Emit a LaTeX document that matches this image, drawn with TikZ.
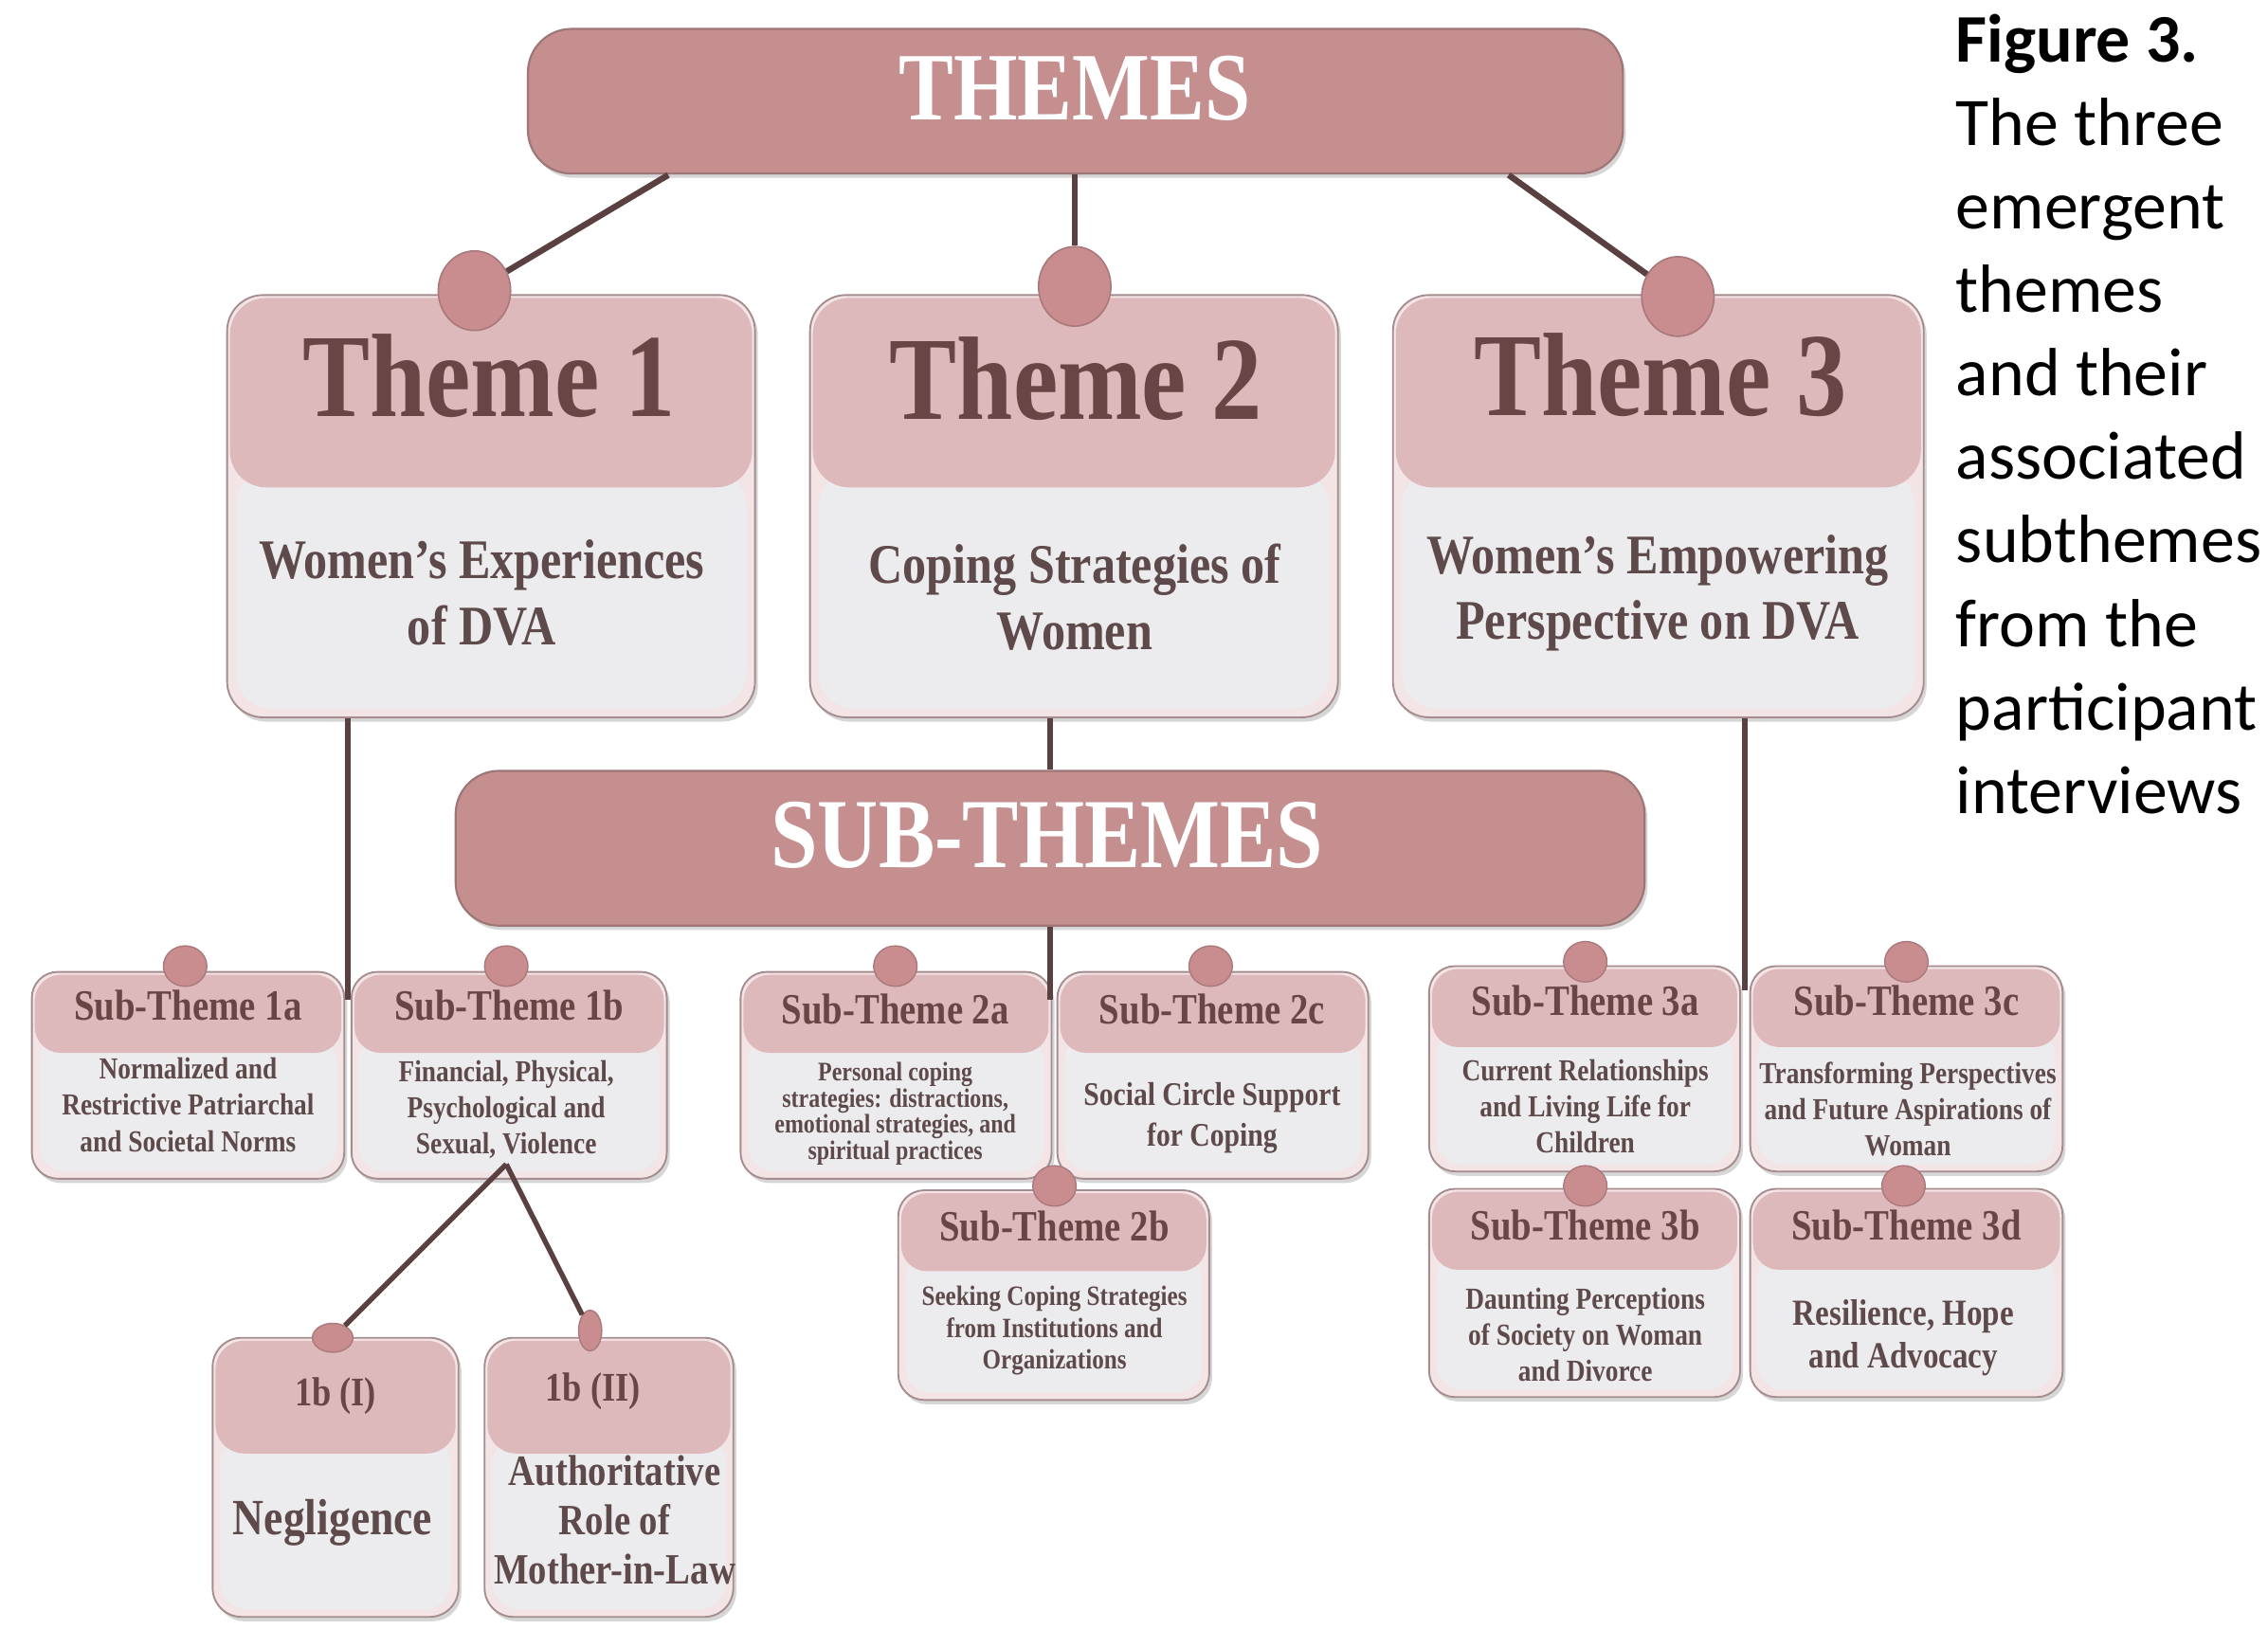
\documentclass[tikz,border=0pt]{standalone}
\usepackage{fontspec}
\setmainfont{Liberation Serif}
\newfontfamily\tf[FakeStretch=0.85]{Liberation Serif}
\newfontfamily\capf{Carlito}
\usetikzlibrary{shapes.geometric}
\definecolor{barfill}{HTML}{C58F90}
\definecolor{barborder}{HTML}{9E7677}
\definecolor{headfill}{HTML}{DEB9BC}
\definecolor{outerfill}{HTML}{F3E4E6}
\definecolor{bodyfill}{HTML}{ECECEE}
\definecolor{boxborder}{HTML}{A58C8E}
\definecolor{dotfill}{HTML}{C98C8F}
\definecolor{dotborder}{HTML}{A8797B}
\definecolor{textc}{HTML}{6A4546}
\definecolor{bodyc}{HTML}{5E4A4B}
\definecolor{linec}{HTML}{5A4040}
\newcommand\fsz[2]{\tf\bfseries\fontsize{#1}{#2}\selectfont}
% #1 name, #2 left, #3 top, #4 right, #5 bottom, #6 header bottom, #7 radius, #8 inset
\newcommand\mkbox[8]{%
  \fill[black, opacity=.16, rounded corners=#7] (#2+2,#3+3) rectangle (#4+2,#5+3);
  \node[draw=boxborder, fill=outerfill, rounded corners=#7, line width=0.7pt, inner sep=0,
        minimum width={(#4-#2)*0.2mm}, minimum height={(#5-#3)*0.2mm}] (#1) at ({(#2+#4)/2},{(#3+#5)/2}) {};
  \fill[bodyfill, rounded corners=#7] (#2+#8,#6-12) rectangle (#4-#8,#5-#8);
  \fill[headfill, rounded corners=#7] (#2+2,#3+2) rectangle (#4-2,#6);
}
\tikzset{
  bar/.style={draw=barborder, fill=barfill, rounded corners=6mm, line width=0.8pt, inner sep=0},
  conn/.style={draw=linec, line width=2.4pt},
  thin conn/.style={draw=linec, line width=2pt},
  bigdot/.style={ellipse, draw=dotborder, fill=dotfill, line width=0.6pt, minimum width=10mm, minimum height=11mm, inner sep=0},
  smalldot/.style={ellipse, draw=dotborder, fill=dotfill, line width=0.5pt, minimum width=6mm, minimum height=5.6mm, inner sep=0},
  ttl/.style={text=white, font=\fsz{38}{40}, inner sep=0},
  hd/.style={text=textc, inner sep=0},
  bd/.style={text=bodyc, align=center, inner sep=0},
  capline/.style={anchor=base west, inner sep=0, text=black, font=\capf\fontsize{26.8}{32}\selectfont},
}
\begin{document}
\begin{tikzpicture}[x=0.2mm, y=-0.2mm]
\clip (0,0) rectangle (1568,1126);
\fill[white] (0,0) rectangle (1568,1126);

% bars
\fill[black, opacity=.16, rounded corners=6mm] (367,23) rectangle (1124,123);
\node[bar, minimum width={757*0.2mm}, minimum height={100*0.2mm}] (themes) at (743.5,70) {};
\node[ttl, anchor=base] (themesT) at (743,83) {THEMES};
\fill[black, opacity=.16, rounded corners=6mm] (317,536) rectangle (1139,643);
\node[bar, minimum width={822*0.2mm}, minimum height={107*0.2mm}] (subs) at (726,586.5) {};
\node[ttl, anchor=base, font=\fsz{39}{41}] (subsT) at (724,600) {SUB-THEMES};

% theme boxes
\mkbox{t1}{157}{204}{522}{496}{337}{5mm}{6}
\mkbox{t2}{560}{204}{925}{496}{337}{5mm}{6}
\mkbox{t3}{963}{204}{1330}{496}{337}{5mm}{6}

% sub-theme boxes
\mkbox{s1a}{22}{672}{238}{815}{728}{3.6mm}{5}
\mkbox{s1b}{243}{672}{461}{815}{728}{3.6mm}{5}
\mkbox{s2a}{512}{672}{727}{815}{728}{3.6mm}{5}
\mkbox{s2c}{731}{672}{946}{815}{728}{3.6mm}{5}
\mkbox{s2b}{621}{823}{836}{968}{879}{3.6mm}{5}
\mkbox{s3a}{988}{668}{1203}{810}{724}{3.6mm}{5}
\mkbox{s3c}{1210}{668}{1426}{810}{724}{3.6mm}{5}
\mkbox{s3b}{988}{822}{1203}{966}{878}{3.6mm}{5}
\mkbox{s3d}{1210}{822}{1426}{966}{878}{3.6mm}{5}
\mkbox{s1bI}{147}{925}{317}{1118}{1005}{4mm}{5}
\mkbox{s1bII}{335}{925}{507}{1118}{1005}{4mm}{5}

% dots
\node[bigdot] (d1) at (328,201) {};
\node[bigdot] (d2) at (743,198) {};
\node[bigdot] (d3) at (1160,205) {};
\node[smalldot] (ds1a) at (128,668) {};
\node[smalldot] (ds1b) at (350,668) {};
\node[smalldot] (ds2a) at (619,668) {};
\node[smalldot] (ds2c) at (837,668) {};
\node[smalldot] (ds2b) at (729,820) {};
\node[smalldot] (ds3a) at (1096,665) {};
\node[smalldot] (ds3c) at (1318,665) {};
\node[smalldot] (ds3b) at (1096,820) {};
\node[smalldot] (ds3d) at (1316,820) {};
\node[smalldot, minimum width=5.6mm, minimum height=4mm] (ds1bI) at (230,925) {};
\node[smalldot, minimum width=3.2mm, minimum height=5.6mm] (ds1bII) at (408,920) {};

% connectors
\coordinate (themesL) at (462,121);
\coordinate (themesR) at (1043,121);
\coordinate (s1bV) at (350,805);
\draw[conn] (themesL) -- (d1);
\draw[conn] (themes.south -| d2) -- (d2);
\draw[conn] (themesR) -- (d3);
\draw[conn] ([xshift=-0.4mm]s1b.north west |- t1.south) -- ([xshift=-0.4mm,yshift=-4mm]s1b.north west);
\draw[conn] (subs.north) -- (subs.north |- t2.south);
\draw[conn] (subs.south) -- ([yshift=-4mm]subs.south |- s2a.north);
\draw[conn] ([xshift=-0.6mm]s3c.north west |- t3.south) -- ([xshift=-0.6mm,yshift=-3.5mm]s3c.north west);
\draw[thin conn] (s1bV) -- (ds1bI);
\draw[thin conn] (s1bV) -- (ds1bII);

% theme texts
\node[hd, font=\fsz{46.7}{50}, anchor=base] (t1h) at (338,288) {Theme 1};
\node[hd, font=\fsz{46.7}{50}, anchor=base] (t2h) at (744,290) {Theme 2};
\node[hd, font=\fsz{46.7}{50}, anchor=base] (t3h) at (1148,287) {Theme 3};
\node[bd, font=\fsz{22}{26}] (t1b) at (333,410) {Women’s Experiences\\of DVA};
\node[bd, font=\fsz{22}{26}] (t2b) at (743,413) {Coping Strategies of\\Women};
\node[bd, font=\fsz{22}{26}] (t3b) at (1146,410) {Women’s Empowering\\Perspective on DVA};

% sub-theme headers
\node[hd, font=\fsz{17}{19}] (s1ah) at (130,695) {Sub-Theme 1a};
\node[hd, font=\fsz{17}{19}] (s1bh) at (352,695) {Sub-Theme 1b};
\node[hd, font=\fsz{17}{19}] (s2ah) at (619,698) {Sub-Theme 2a};
\node[hd, font=\fsz{17}{19}] (s2ch) at (838,698) {Sub-Theme 2c};
\node[hd, font=\fsz{17}{19}] (s2bh) at (729,848) {Sub-Theme 2b};
\node[hd, font=\fsz{17}{19}] (s3ah) at (1096,692) {Sub-Theme 3a};
\node[hd, font=\fsz{17}{19}] (s3ch) at (1318,692) {Sub-Theme 3c};
\node[hd, font=\fsz{17}{19}] (s3bh) at (1096,847) {Sub-Theme 3b};
\node[hd, font=\fsz{17}{19}] (s3dh) at (1318,847) {Sub-Theme 3d};
\node[hd, font=\fsz{16}{18}] (s1bIh) at (232,965) {1b (I)};
\node[hd, font=\fsz{16}{18}] (s1bIIh) at (410,962) {1b (II)};

% sub-theme bodies
\node[bd, font=\fsz{12}{14.2}] (s1ab) at (130,764) {Normalized and\\Restrictive Patriarchal\\and Societal Norms};
\node[bd, font=\fsz{12}{14.2}] (s1bb) at (350,767) {Financial, Physical,\\Psychological and\\Sexual, Violence};
\node[bd, font=\fsz{10.5}{10.3}] (s2ab) at (619,770) {Personal coping\\strategies: distractions,\\emotional strategies, and\\spiritual practices};
\node[bd, font=\fsz{13}{16}] (s2cb) at (838,773) {Social Circle Support\\for Coping};
\node[bd, font=\fsz{11}{12.5}] (s2bb) at (729,920) {Seeking Coping Strategies\\from Institutions and\\Organizations};
\node[bd, font=\fsz{12}{14.2}] (s3ab) at (1096,765) {Current Relationships\\and Living Life for\\Children};
\node[bd, font=\fsz{12}{14.2}] (s3cb) at (1319,767) {Transforming Perspectives\\and Future Aspirations of\\Woman};
\node[bd, font=\fsz{12}{14.2}] (s3bb) at (1096,923) {Daunting Perceptions\\of Society on Woman\\and Divorce};
\node[bd, font=\fsz{14.5}{17}] (s3db) at (1316,925) {Resilience, Hope\\and Advocacy};
\node[bd, font=\fsz{20}{22}] (s1bIb) at (230,1053) {Negligence};
\node[bd, font=\fsz{17}{19.3}] (s1bIIb) at (425,1051) {Authoritative\\Role of\\Mother-in-Law};

% caption
\node[capline, font=\capf\bfseries\fontsize{26.8}{32}\selectfont] (cap0) at (1352,43) {Figure 3.};
\node[capline] (cap1) at (1352,100.7) {The three};
\node[capline] (cap2) at (1352,158.4) {emergent};
\node[capline] (cap3) at (1352,216.1) {themes};
\node[capline] (cap4) at (1352,273.8) {and their};
\node[capline] (cap5) at (1352,331.5) {associated};
\node[capline] (cap6) at (1352,389.2) {subthemes};
\node[capline] (cap7) at (1352,446.9) {from the};
\node[capline] (cap8) at (1352,504.6) {participant};
\node[capline] (cap9) at (1352,562.3) {interviews};
\end{tikzpicture}
\end{document}
